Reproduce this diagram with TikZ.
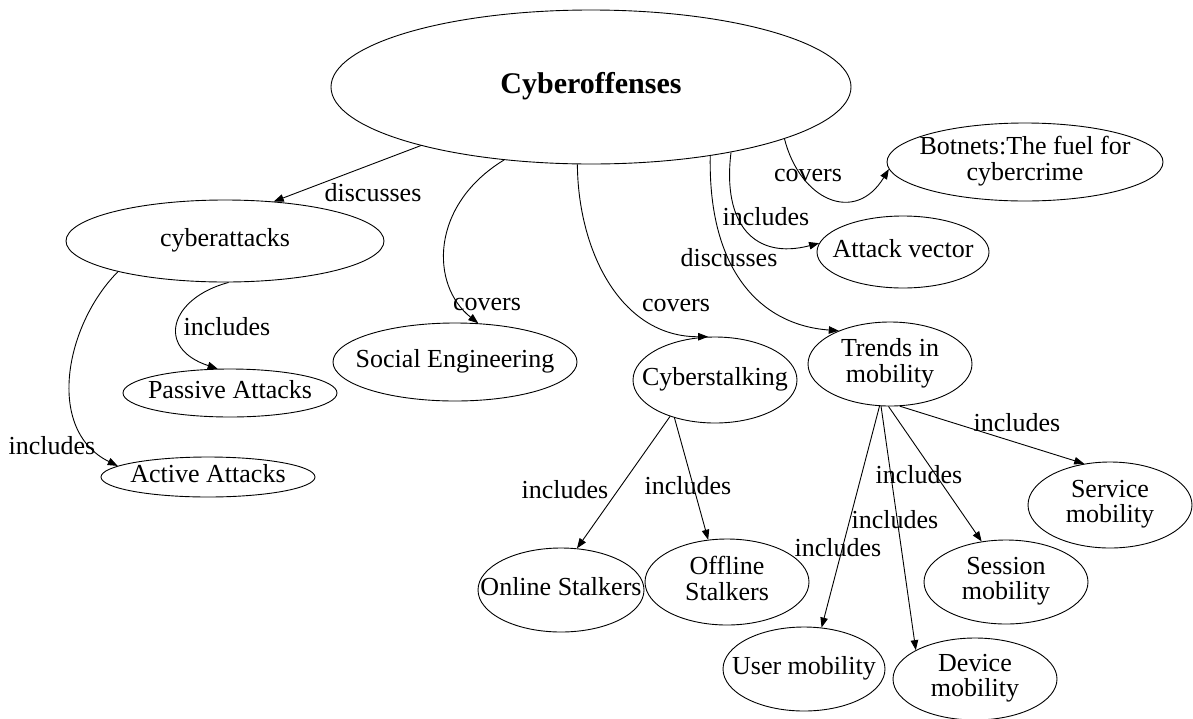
\documentclass[tikz,border=0pt]{standalone}
\usepackage{fontspec}
\setmainfont{Liberation Serif}
\usetikzlibrary{shapes.geometric,arrows.meta}

% text set inside an ellipse without widening it
\newcommand\intopic[1]{\makebox[0pt]{\begin{tabular}{@{}c@{}}#1\end{tabular}}}

\begin{document}
\begin{tikzpicture}[x=1pt,y=-1pt,
  every node/.style={font=\fontsize{26}{24}\selectfont},
  topic/.style={draw, ellipse, inner sep=0pt, line width=0.9pt},
  lbl/.style={inner sep=0pt},
  link/.style={line width=0.9pt, -{Triangle[length=10pt,width=7.5pt]}}]
\useasboundingbox (0,0) rectangle (1193,718);

% topics
\node[topic, minimum width=520pt, minimum height=154pt] (off) at (591,87)
  {\intopic{\fontsize{30}{30}\selectfont\bfseries Cyberoffenses}};
\node[topic, minimum width=318pt, minimum height=82pt] (att) at (225,241) {\intopic{cyberattacks}};
\node[topic, minimum width=214pt, minimum height=48pt] (pas) at (230,393) {\intopic{Passive Attacks}};
\node[topic, minimum width=214pt, minimum height=40pt] (act) at (208,477) {\intopic{Active Attacks}};
\node[topic, minimum width=244pt, minimum height=78pt] (soc) at (455,362) {\intopic{Social Engineering}};
\node[topic, minimum width=164pt, minimum height=86pt] (stalk) at (715,380) {\intopic{Cyberstalking}};
\node[topic, minimum width=164pt, minimum height=84pt] (trend) at (890,364) {\intopic{Trends in\\mobility}};
\node[topic, minimum width=276pt, minimum height=78pt] (bot) at (1025,162) {\intopic{Botnets:The fuel for\\cybercrime}};
\node[topic, minimum width=172pt, minimum height=72pt] (vec) at (903,252) {\intopic{Attack vector}};
\node[topic, minimum width=166pt, minimum height=84pt] (onl) at (561,590) {\intopic{Online Stalkers}};
\node[topic, minimum width=164pt, minimum height=86pt] (offl) at (727,582) {\intopic{Offline\\Stalkers}};
\node[topic, minimum width=164pt, minimum height=86pt] (serv) at (1110,505) {\intopic{Service\\mobility}};
\node[topic, minimum width=164pt, minimum height=84pt] (sess) at (1006,582) {\intopic{Session\\mobility}};
\node[topic, minimum width=164pt, minimum height=82pt] (dev) at (975,679) {\intopic{Device\\mobility}};
\node[topic, minimum width=162pt, minimum height=84pt] (user) at (804,669) {\intopic{User mobility}};

% connectors
\draw[link] (off.199) -- (att.39);
\draw[link] (off.220) .. controls (430,205) and (430,285) .. (soc.59);
\draw[link] (off.260) .. controls (578,250) and (620,337) .. (stalk.99);
\draw[link] (off.330) .. controls (708,270) and (760,325) .. (trend.147);
\draw[link] (off.335) .. controls (722,225) and (755,260) .. (vec.174);
\draw[link] (off.345) .. controls (800,200) and (855,225) .. (bot.183);
\draw[link] (att.275) .. controls (170,298) and (155,348) .. (pas.117);
\draw[link] (att.196) .. controls (65,325) and (45,430) .. (act.173);
\draw[link] (stalk.219) -- (onl.69);
\draw[link] (stalk.223) -- (offl.114);
\draw[link] (trend.283) -- (serv.122);
\draw[link] (trend.268) -- (sess.121);
\draw[link] (trend.258) -- (dev.154);
\draw[link] (trend.256) -- (user.67);

% connector labels
\node[lbl] (l1) at (373,193) {discusses};
\node[lbl] (l2) at (487,304) {covers};
\node[lbl] (l3) at (676,305) {covers};
\node[lbl] (l4) at (729,258) {discusses};
\node[lbl] (l5) at (766,217) {includes};
\node[lbl] (l6) at (808,175) {covers};
\node[lbl] (l7) at (227,327) {includes};
\node[lbl] (l8) at (52,446) {includes};
\node[lbl] (l9) at (565,490) {includes};
\node[lbl] (l10) at (688,486) {includes};
\node[lbl] (l11) at (1017,423) {includes};
\node[lbl] (l12) at (919,475) {includes};
\node[lbl] (l13) at (895,520) {includes};
\node[lbl] (l14) at (838,548) {includes};
\end{tikzpicture}
\end{document}
